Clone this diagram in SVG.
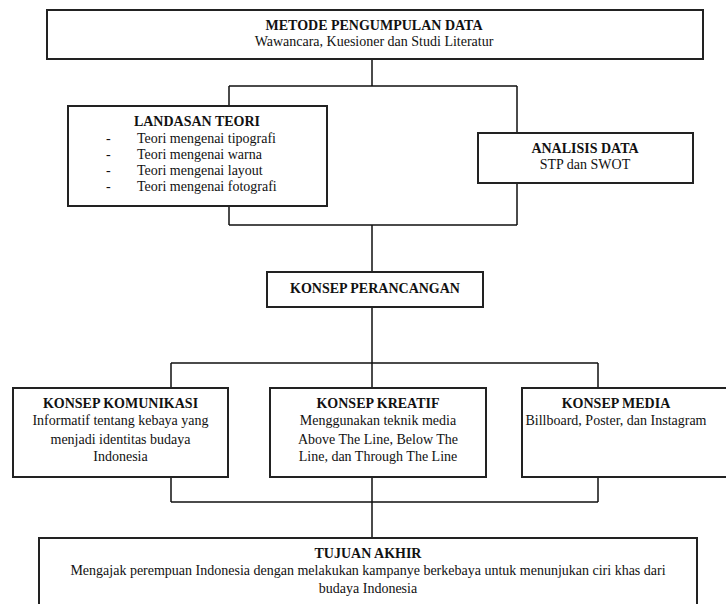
<svg xmlns="http://www.w3.org/2000/svg" width="726" height="604" viewBox="0 0 726 604">
<style>
.box{fill:#fff;stroke:#222;stroke-width:2}
.ln{fill:none;stroke:#111;stroke-width:1.5}
text{font-family:"Liberation Serif","Times New Roman",serif;font-size:14px;fill:#111}
.b{font-weight:bold}
.c{text-anchor:middle}
</style>
<rect width="726" height="604" fill="#fff"/>
<g id="connectors" class="ln">
<path d="M372 59V86M229 86H517M229 86V106M517 86V133"/>
<path d="M229 206V225M517 183V225M229 225H517M372 225V272"/>
<path d="M372 307V363M171 363H598M171 363V388M372 363V388M598 363V388"/>
<path d="M171 477V502M372 477V502M598 477V502M171 502H598M372 502V538"/>
</g>
<g id="metode">
<rect class="box" x="47" y="10" width="656" height="49"/>
<text class="b c" x="374" y="29.5">METODE PENGUMPULAN DATA</text>
<text class="c" x="374" y="46">Wawancara, Kuesioner dan Studi Literatur</text>
</g>
<g id="landasan">
<rect class="box" x="68" y="106" width="259" height="100"/>
<text class="b c" x="197" y="126">LANDASAN TEORI</text>
<text x="106" y="142.5">-</text><text x="137" y="142.5">Teori mengenai tipografi</text>
<text x="106" y="158.5">-</text><text x="137" y="158.5">Teori mengenai warna</text>
<text x="106" y="174.5">-</text><text x="137" y="174.5">Teori mengenai layout</text>
<text x="106" y="190.5">-</text><text x="137" y="190.5">Teori mengenai fotografi</text>
</g>
<g id="analisis">
<rect class="box" x="478" y="133" width="215" height="50"/>
<text class="b c" x="585" y="153">ANALISIS DATA</text>
<text class="c" x="585" y="168.5">STP dan SWOT</text>
</g>
<g id="perancangan">
<rect class="box" x="267" y="272" width="216" height="35"/>
<text class="b c" x="375" y="293">KONSEP PERANCANGAN</text>
</g>
<g id="komunikasi">
<rect class="box" x="13" y="388" width="215" height="89"/>
<text class="b c" x="120.5" y="407.5">KONSEP KOMUNIKASI</text>
<text class="c" x="120.5" y="425">Informatif tentang kebaya yang</text>
<text class="c" x="120.5" y="443.5">menjadi identitas budaya</text>
<text class="c" x="120.5" y="461">Indonesia</text>
</g>
<g id="kreatif">
<rect class="box" x="270" y="388" width="216" height="89"/>
<text class="b c" x="378" y="407.5">KONSEP KREATIF</text>
<text class="c" x="378" y="425">Menggunakan teknik media</text>
<text class="c" x="378" y="443.5">Above The Line, Below The</text>
<text class="c" x="378" y="461">Line, dan Through The Line</text>
</g>
<g id="media">
<rect class="box" x="522" y="388" width="206" height="89"/>
<text class="b c" x="616" y="407.5">KONSEP MEDIA</text>
<text class="c" x="616" y="425">Billboard, Poster, dan Instagram</text>
</g>
<g id="tujuan">
<rect class="box" x="39" y="538" width="658" height="80"/>
<text class="b c" x="368" y="557.5">TUJUAN AKHIR</text>
<text class="c" x="368" y="574.5">Mengajak perempuan Indonesia dengan melakukan kampanye berkebaya untuk menunjukan ciri khas dari</text>
<text class="c" x="368" y="592.5">budaya Indonesia</text>
</g>
</svg>
